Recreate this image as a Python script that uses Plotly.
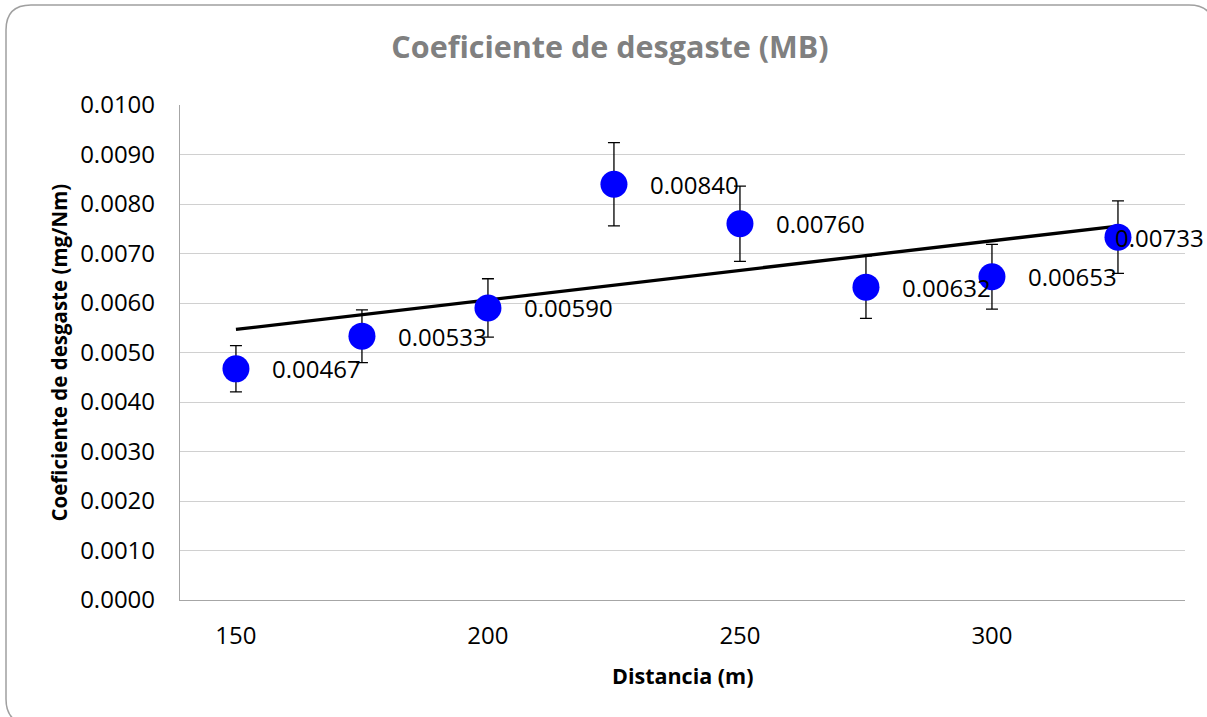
import numpy as np
import plotly.graph_objects as go

# Distance (m) and wear coefficient (mg/Nm)
distancia = [150, 175, 200, 225, 250, 275, 300, 325]
coeficiente = [0.00467, 0.00533, 0.00590, 0.00840, 0.00760, 0.00632, 0.00653, 0.00733]
error_pct = 10  # percentage error bars

y_ticks = [i / 1000 for i in range(0, 11)]
y_ticktext = [f"{v:.4f}" for v in y_ticks]
x_ticks = [150, 200, 250, 300]

FONT = "'Open Sans', sans-serif"

W, H = 1207, 717
ML, MR, MT, MB = 180, 22, 105, 117
PW, PH = W - ML - MR, H - MT - MB


def px(x):
    return (x - ML) / PW


def py(y):
    return (H - MB - y) / PH


# linear trend line
slope, intercept = np.polyfit(distancia, coeficiente, 1)
trend_x = [distancia[0], distancia[-1]]
trend_y = [slope * x + intercept for x in trend_x]

fig = go.Figure()

fig.add_trace(go.Scatter(
    x=trend_x, y=trend_y, mode="lines",
    line=dict(color="black", width=3.3),
    hoverinfo="skip", showlegend=False,
))

fig.add_trace(go.Scatter(
    x=distancia, y=coeficiente, mode="markers",
    marker=dict(color="#0000FF", size=27, line=dict(width=0)),
    error_y=dict(type="percent", value=error_pct, color="black",
                 thickness=1.3, width=6),
    showlegend=False,
))

annotations = []
for i, (x, v) in enumerate(zip(distancia, coeficiente)):
    last = i == len(distancia) - 1
    annotations.append(dict(
        x=x, y=v, xref="x", yref="y", text=f"{v:.5f}",
        showarrow=False, xanchor="left", yanchor="middle",
        xshift=-5 if last else 34,
        font=dict(family=FONT, size=24, color="black"),
    ))

annotations.append(dict(
    x=px(58), y=0.5, xref="paper", yref="paper",
    text="<b>Coeficiente de desgaste (mg/Nm)</b>", textangle=-90,
    showarrow=False, xanchor="center", yanchor="middle",
    font=dict(family=FONT, size=20.5, color="black"),
))
annotations.append(dict(
    x=0.5, y=py(675), xref="paper", yref="paper",
    text="<b>Distancia (m)</b>",
    showarrow=False, xanchor="center", yanchor="middle",
    font=dict(family=FONT, size=21.5, color="black"),
))

# rounded chart frame
L, T, R, B, r = 6, 5, 1214, 724, 25
frame = (
    f"M {px(L)},{py(T + r)} Q {px(L)},{py(T)} {px(L + r)},{py(T)} "
    f"L {px(R - r)},{py(T)} Q {px(R)},{py(T)} {px(R)},{py(T + r)} "
    f"L {px(R)},{py(B - r)} Q {px(R)},{py(B)} {px(R - r)},{py(B)} "
    f"L {px(L + r)},{py(B)} Q {px(L)},{py(B)} {px(L)},{py(B - r)} Z"
)

fig.update_layout(
    width=W, height=H, autosize=False,
    margin=dict(l=ML, r=MR, t=MT, b=MB, pad=0),
    paper_bgcolor="white", plot_bgcolor="white",
    title=dict(
        text="<b>Coeficiente de desgaste (MB)</b>",
        x=610 / W, y=1 - 47 / H, xref="container", yref="container",
        xanchor="center", yanchor="middle",
        font=dict(family=FONT, size=30.5, color="#808080"),
    ),
    xaxis=dict(
        range=[138.9, 338.3], tickvals=x_ticks, showgrid=False,
        zeroline=False, showline=True, linecolor="#A6A6A6", linewidth=1.3,
        ticks="", ticklabelstandoff=14,
        tickfont=dict(family=FONT, size=24, color="black"),
    ),
    yaxis=dict(
        range=[0, 0.0100], tickvals=y_ticks, ticktext=y_ticktext,
        showgrid=True, gridcolor="#D0D0D0", gridwidth=1.3,
        zeroline=False, showline=True, linecolor="#A6A6A6", linewidth=1.3,
        ticks="", ticklabelstandoff=19,
        tickfont=dict(family=FONT, size=24, color="black"),
    ),
    annotations=annotations,
    shapes=[dict(type="path", path=frame, xref="paper", yref="paper",
                 line=dict(color="#A0A0A0", width=1.5), layer="below")],
)

fig.write_html("out.html")
